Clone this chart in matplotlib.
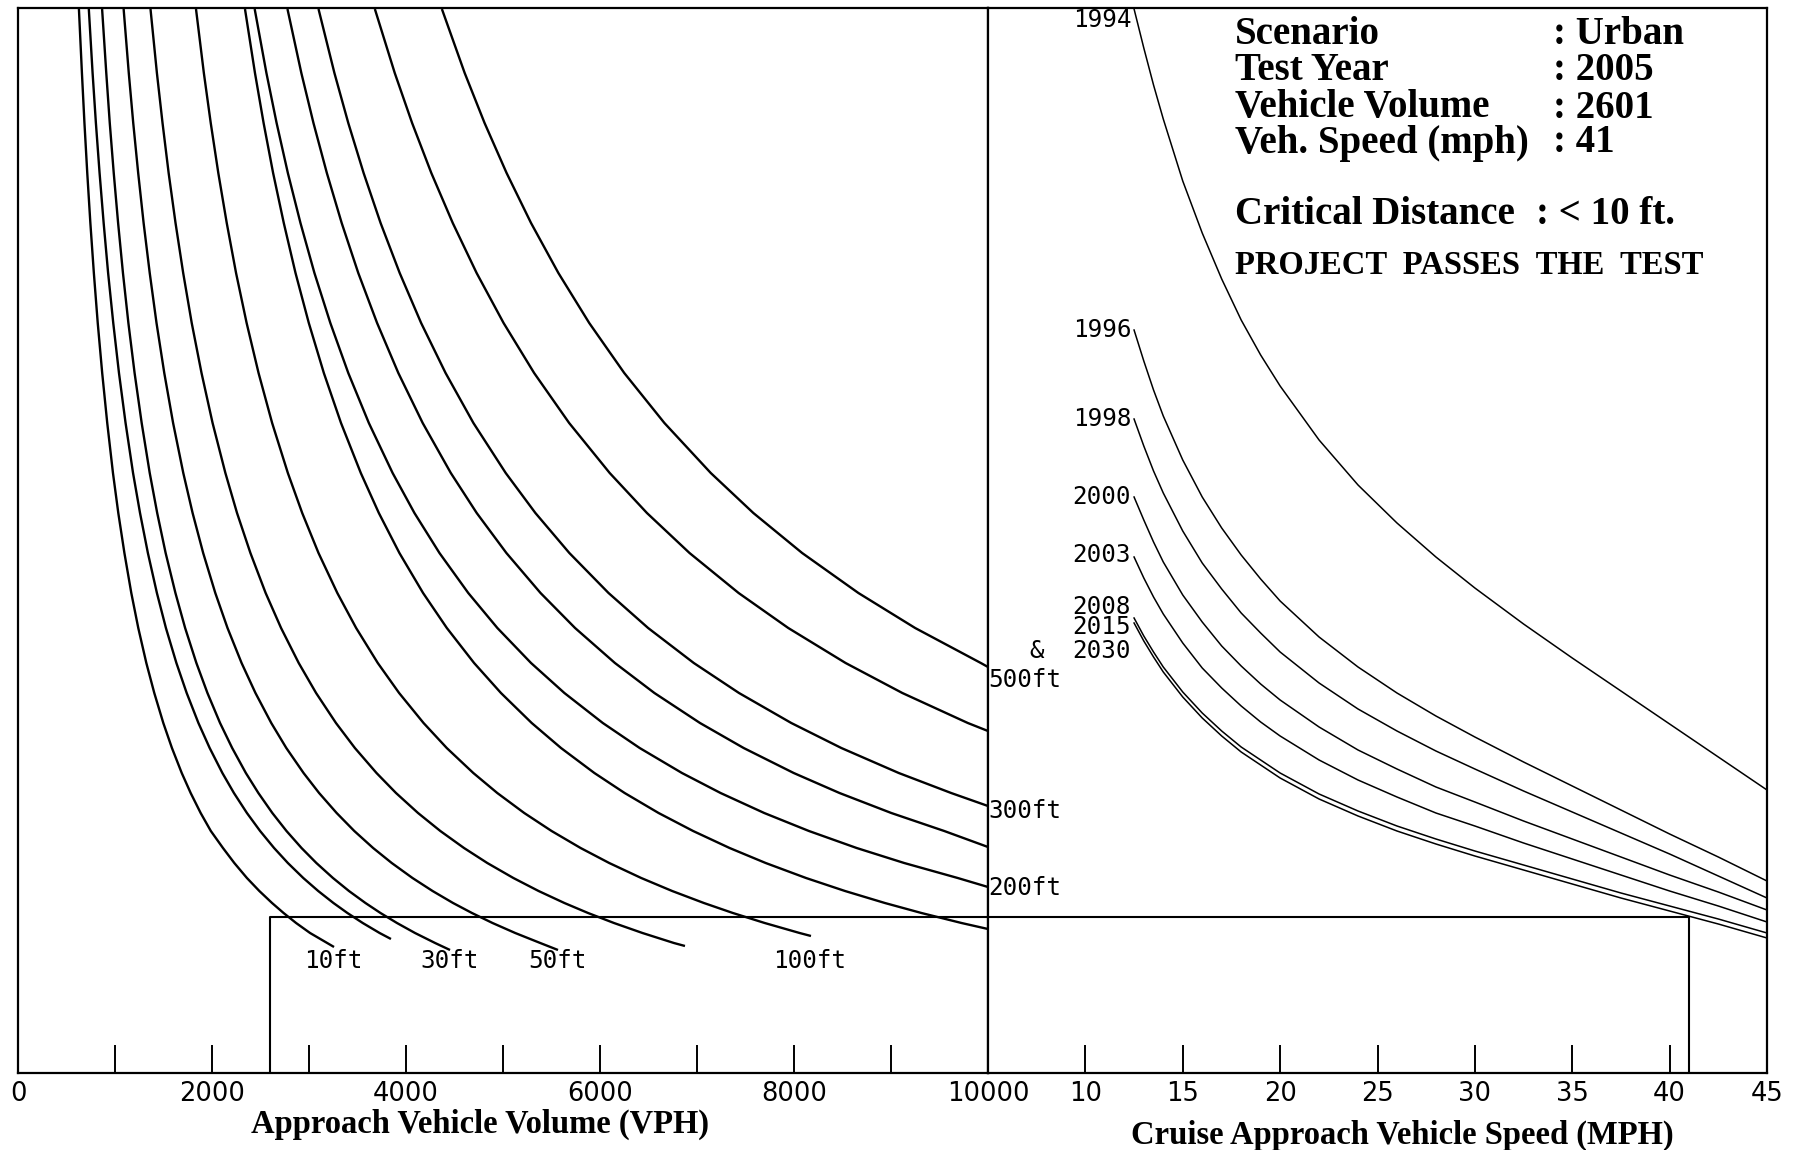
import matplotlib
matplotlib.use("Agg")
import matplotlib.pyplot as plt

# ---------------- data: left panel (volume vs. index, one curve per distance) -------------
LEVELS = [1064, 1000, 950, 900, 850, 800, 750, 700, 650, 600, 560, 520, 480, 445, 410,
          380, 350, 325, 300, 280, 260, 242, 225, 210, 195, 182, 170, 160, 150, 140, 130]

VPH_10FT = [628, 659, 685, 714, 746, 782, 822, 868, 920, 979, 1034, 1097, 1168, 1240, 1323,
            1405, 1498, 1587, 1688, 1780, 1883, 1988, 2113, 2230, 2360, 2488, 2619, 2738, 2867, 3011]
VPH_20FT = [730, 769, 803, 841, 883, 929, 982, 1041, 1109, 1186, 1258, 1339, 1432, 1525, 1633,
            1739, 1860, 1976, 2107, 2226, 2360, 2496, 2640, 2782, 2941, 3095, 3252, 3396, 3554, 3728]
VPH_30FT = [867, 910, 946, 987, 1032, 1082, 1138, 1202, 1275, 1358, 1435, 1522, 1623, 1723, 1839,
            1953, 2083, 2208, 2349, 2478, 2622, 2768, 2923, 3076, 3247, 3412, 3582, 3737, 3907, 4093, 4300]
VPH_50FT = [1089, 1142, 1188, 1239, 1295, 1358, 1428, 1508, 1599, 1704, 1800, 1909, 2034, 2160, 2305,
            2448, 2611, 2766, 2944, 3104, 3285, 3467, 3661, 3853, 4067, 4274, 4485, 4680, 4892, 5126, 5384]
VPH_75FT = [1366, 1432, 1490, 1553, 1624, 1703, 1791, 1892, 2006, 2138, 2258, 2396, 2553, 2712, 2894,
            3073, 3278, 3473, 3696, 3897, 4124, 4354, 4598, 4838, 5107, 5367, 5633, 5877, 6144, 6438, 6762]
VPH_100FT = [1835, 1916, 1987, 2065, 2152, 2248, 2357, 2480, 2620, 2782, 2930, 3098, 3292, 3486, 3709,
             3929, 4181, 4420, 4694, 4941, 5219, 5501, 5800, 6095, 6425, 6744, 7071, 7370, 7698, 8058]
VPH_150FT = [2340, 2443, 2532, 2630, 2740, 2861, 2998, 3153, 3330, 3534, 3720, 3932, 4176, 4421, 4702,
             4979, 5296, 5598, 5942, 6254, 6604, 6960, 7336, 7708, 8124, 8526, 8937, 9314, 9727]
VPH_200FT = [2440, 2561, 2666, 2782, 2912, 3056, 3220, 3405, 3617, 3862, 4087, 4345, 4642, 4942, 5289,
             5633, 6029, 6409, 6845, 7243, 7693, 8154, 8646, 9136, 9688]
VPH_250FT = [2778, 2921, 3046, 3184, 3337, 3508, 3702, 3921, 4172, 4462, 4729, 5035, 5387, 5743, 6154,
             6561, 7031, 7481, 7997, 8469, 9003, 9549]
VPH_300FT = [3098, 3262, 3405, 3563, 3738, 3935, 4156, 4408, 4695, 5028, 5334, 5684, 6088, 6496, 6967,
             7433, 7972, 8488, 9080, 9620]
VPH_400FT = [3679, 3884, 4063, 4261, 4482, 4728, 5006, 5321, 5682, 6100, 6484, 6923, 7429, 7941, 8532,
             9117, 9792]
VPH_500FT = [4370, 4605, 4810, 5037, 5289, 5571, 5889, 6250, 6664, 7142, 7581, 8084, 8664, 9249, 9926]

# last point of each curve (lower tip inside the panel, or where it meets the 10000 VPH edge)
TAIL_VPH = [3258, 3845, 4454, 5567, 6876, 8175, 10000, 10000, 10000, 10000, 10000, 10000]
TAIL_Y = [126, 134, 123, 123, 127, 137, 144, 186, 226, 267, 342, 406]

DIST_LABELS = ["10ft", "30ft", "50ft", "100ft"]
DIST_LABEL_X = [2948, 4144, 5258, 7784]
EDGE_LABELS = ["500ft", "300ft", "200ft"]
EDGE_LABEL_Y = [393, 262, 185]

# ---------------- data: right panel (speed vs. index, one curve per year) -------------
SPEED = [12.5, 13, 13.5, 14, 15, 16, 17, 18, 19, 20, 22, 24, 26, 28, 30, 32.5, 35, 37.5, 40, 42.5, 45]
Y_1994 = [1064, 1025, 988, 954, 892, 840, 794, 753, 718, 687, 633, 588, 550, 516, 485, 449, 415, 382, 349, 316, 283]
Y_1996 = [743, 712, 683, 657, 613, 576, 545, 518, 494, 472, 436, 406, 380, 357, 336, 311, 287, 263, 239, 216, 192]
Y_1998 = [654, 627, 602, 580, 542, 510, 484, 460, 440, 421, 390, 364, 342, 322, 304, 282, 261, 240, 219, 197, 175]
Y_2000 = [576, 553, 531, 511, 478, 451, 427, 407, 389, 373, 346, 323, 304, 286, 271, 252, 234, 216, 198, 181, 163]
Y_2003 = [516, 495, 476, 459, 430, 405, 385, 367, 351, 337, 313, 293, 276, 260, 247, 230, 214, 198, 182, 167, 151]
Y_2008 = [455, 437, 421, 406, 381, 360, 342, 326, 313, 300, 279, 262, 247, 234, 222, 208, 194, 180, 167, 154, 140]
Y_2015 = [450, 432, 416, 401, 376, 355, 337, 321, 308, 295, 274, 257, 242, 229, 217, 203, 189, 175, 162, 149, 135]

YEAR_LABELS = ["1994", "1996", "1998", "2000", "2003", "2008", "2015", "2030"]
YEAR_LABEL_Y = [1053, 743, 654, 576, 518, 466, 446, 422]

# ---------------- scenario ----------------
TEST_VOLUME = 2601
TEST_SPEED = 41
BOX_LEVEL = 156

INFO_KEYS = ["Scenario", "Test Year", "Vehicle Volume", "Veh. Speed (mph)"]
INFO_VALS = [": Urban", ": 2005", ": 2601", ": 41"]

YMAX = 1065

# ---------------- figure ----------------
W, H = 1800, 1150
fig = plt.figure(figsize=(W / 100, H / 100), dpi=100)
fig.patch.set_facecolor("white")

x0, xm, x1 = 18, 988, 1767
ytop, ybot = 8, 1073
axL = fig.add_axes([x0 / W, 1 - ybot / H, (xm - x0) / W, (ybot - ytop) / H])
axR = fig.add_axes([xm / W, 1 - ybot / H, (x1 - xm) / W, (ybot - ytop) / H])

axL.set_xlim(0, 10000)
axR.set_xlim(5, 45)
for ax in (axL, axR):
    ax.set_ylim(0, YMAX)
    ax.set_yticks([])
    for s in ax.spines.values():
        s.set_linewidth(1.6)
        s.set_color("black")

tick_font = dict(family="DejaVu Sans", size=18.5)
lab_font = dict(family="DejaVu Sans Mono", size=17.5)

# left axis ticks
axL.set_xticks(list(range(0, 10001, 1000)))
axL.set_xticklabels([str(v) if v % 2000 == 0 else "" for v in range(0, 10001, 1000)], **tick_font)
axL.tick_params(axis="x", direction="in", length=20, width=1.4, pad=6)
# right axis ticks
axR.set_xticks([10, 15, 20, 25, 30, 35, 40, 45])
axR.set_xticklabels(["10", "15", "20", "25", "30", "35", "40", "45"], **tick_font)
axR.tick_params(axis="x", direction="in", length=20, width=1.4, pad=6)

# distance curves
all_vph = [VPH_10FT, VPH_20FT, VPH_30FT, VPH_50FT, VPH_75FT, VPH_100FT,
           VPH_150FT, VPH_200FT, VPH_250FT, VPH_300FT, VPH_400FT, VPH_500FT]
for vph, tx, ty in zip(all_vph, TAIL_VPH, TAIL_Y):
    xs = list(vph) + [tx]
    ys = LEVELS[:len(vph)] + [ty]
    axL.plot(xs, ys, color="black", lw=1.7, solid_capstyle="butt", solid_joinstyle="round")

# year curves
for yv in (Y_1994, Y_1996, Y_1998, Y_2000, Y_2003, Y_2008, Y_2015):
    axR.plot(SPEED, yv, color="black", lw=1.1, solid_joinstyle="round")

# test path box
axL.plot([TEST_VOLUME, TEST_VOLUME, 10000], [0, BOX_LEVEL, BOX_LEVEL], color="black", lw=1.5)
axR.plot([5, TEST_SPEED, TEST_SPEED], [BOX_LEVEL, BOX_LEVEL, 0], color="black", lw=1.5)

# distance labels
for t, x in zip(DIST_LABELS, DIST_LABEL_X):
    axL.text(x, 112, t, ha="left", va="center", **lab_font)
for t, y in zip(EDGE_LABELS, EDGE_LABEL_Y):
    axR.text(5.0, y, t, ha="left", va="center", **lab_font)

# year labels
for t, y in zip(YEAR_LABELS, YEAR_LABEL_Y):
    axR.text(12.35, y, t, ha="right", va="center", **lab_font)
axR.text(7.9, YEAR_LABEL_Y[-1], "&", ha="right", va="center", **lab_font)

# axis titles
title_font = dict(family="Liberation Serif", weight="bold", size=23.5)
fig.text(480 / W, 1 - 1124 / H, "Approach Vehicle Volume (VPH)", ha="center", va="center", **title_font)
fig.text(1402 / W, 1 - 1135 / H, "Cruise Approach Vehicle Speed (MPH)", ha="center", va="center", **title_font)

# info block
info_font = dict(family="Liberation Serif", weight="bold", size=28)
rows_y = [34, 71, 108, 143]
for k, v, y in zip(INFO_KEYS, INFO_VALS, rows_y):
    fig.text(1235 / W, 1 - y / H, k, ha="left", va="center", **info_font)
    fig.text(1553 / W, 1 - y / H, v, ha="left", va="center", **info_font)
fig.text(1235 / W, 1 - 214 / H, "Critical Distance", ha="left", va="center", **info_font)
fig.text(1536 / W, 1 - 214 / H, ": < 10 ft.", ha="left", va="center", **info_font)
fig.text(1235 / W, 1 - 265 / H, "PROJECT  PASSES  THE  TEST", ha="left", va="center",
         family="Liberation Serif", weight="bold", size=23.5)

fig.savefig("out.png", dpi=100, facecolor="white")
